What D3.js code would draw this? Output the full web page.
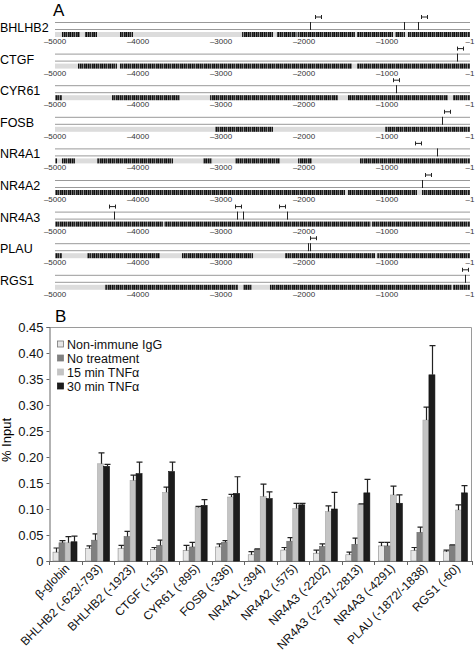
<!DOCTYPE html>
<html><head><meta charset="utf-8">
<script src="https://cdn.jsdelivr.net/npm/d3@7"></script>
<style>
body{margin:0;background:#fff;}
svg{display:block;font-family:"Liberation Sans",Arial,Helvetica,sans-serif;}
</style></head>
<body>
<svg id="c" width="475" height="655"></svg>
<script>
// ---------- Panel A data ----------
const genes = ["BHLHB2","CTGF","CYR61","FOSB","NR4A1","NR4A2","NR4A3","PLAU","RGS1"];
const trackTicks = [-5000,-4000,-3000,-2000,-1000,-1];
const sites = [[-1923,-793,-623],[-153],[-895],[-336],[-394],[-575],[-4291,-2813,-2731,-2202],[-1955,-1930],[-60]];
const amplicons = [[-1830,-560],[-120],[-892],[-277],[-626],[-506],[-4313,-2795,-2265],[-1892],[-60]];
const segments = [
  [[-4916,-4699],[-4639,-4494],[-4217,-4060],[-2747,-2374],[-2326,-2090],[-2078,-1386],[-1361,-928],[-904,-783],[-747,0]],
  [[-4723,-4253],[-4217,-1422],[-1361,0]],
  [[-5000,-4916],[-4313,-3494],[-3133,-1590],[-1470,-265],[-205,0]],
  [[-3072,-2374],[-1024,0]],
  [[-5000,-4976],[-4916,-4759],[-4494,-3578],[-3217,-3108],[-2831,-2289],[-2072,-1904],[-1325,0]],
  [[-5000,-1506],[-1470,-639],[-578,0]],
  [[-5000,-3700],[-3680,-1200],[-1180,0]],
  [[-5000,-4916],[-4614,-3735],[-3470,-2614],[-2229,-1145],[-1120,0]],
  [[-4398,-2795],[-2735,-2627],[-2410,-217],[-205,0]]
];

// ---------- Panel B data ----------
const categories = ["β-globin","BHLHB2 (-623/-793)","BHLHB2 (-1923)","CTGF (-153)","CYR61 (-895)","FOSB (-336)","NR4A1 (-394)","NR4A2 (-575)","NR4A3 (-2202)","NR4A3 (-2731/-2813)","NR4A3 (-4291)","PLAU (-1872/-1838)","RGS1 (-60)"];
const seriesNames = ["Non-immune IgG","No treatment","15 min TNFα","30 min TNFα"];
const igg      = [0.017,0.024,0.024,0.022,0.020,0.027,0.012,0.021,0.015,0.012,0.029,0.020,0.018];
const iggErr   = [0.008,0.005,0.006,0.004,0.010,0.006,0.006,0.005,0.006,0.005,0.007,0.006,0.003];
const noTreat  = [0.035,0.040,0.047,0.030,0.027,0.036,0.0225,0.038,0.028,0.032,0.029,0.055,0.030];
const noTreatErr=[0.004,0.012,0.010,0.010,0.009,0.003,0.001,0.007,0.005,0.012,0.007,0.010,0.001];
const min15    = [0.035,0.187,0.155,0.132,0.103,0.123,0.124,0.101,0.095,0.109,0.127,0.271,0.098];
const min15Err = [0.012,0.021,0.010,0.010,0.002,0.005,0.024,0.010,0.011,0.001,0.017,0.025,0.010];
const min30    = [0.037,0.182,0.168,0.172,0.107,0.130,0.120,0.108,0.100,0.131,0.111,0.358,0.131];
const min30Err = [0.011,0.004,0.022,0.018,0.011,0.032,0.013,0.003,0.032,0.026,0.016,0.056,0.014];
const yTicks = [0,0.05,0.10,0.15,0.20,0.25,0.30,0.35,0.40,0.45];

const values = [igg,noTreat,min15,min30];
const errors = [iggErr,noTreatErr,min15Err,min30Err];
const fills = ["#e6e6e6","#808080","#c4c4c4","#1c1c1c"];
const strokes = ["#8a8a8a","#6a6a6a","#a8a8a8","#111"];

const svg = d3.select("#c");
const defs = svg.append("defs");
const stripeCols = ["#111","#555","#222","#8a8a8a","#1a1a1a","#444","#0d0d0d","#777"];
const pat = defs.append("pattern").attr("id","stripe").attr("patternUnits","userSpaceOnUse")
  .attr("width",stripeCols.length).attr("height",6);
stripeCols.forEach((c,i)=>pat.append("rect").attr("x",i).attr("width",1).attr("height",6).attr("fill",c));

// ---------- Panel A ----------
svg.append("text").attr("x",53).attr("y",16).attr("font-size",17).text("A");
const tx = d3.scaleLinear().domain([-5000,0]).range([55,470]);
genes.forEach((g,i)=>{
  const y0 = 22 + 31.6*i;
  const G = svg.append("g");
  G.append("text").attr("x",0).attr("y",y0+10).attr("font-size",12.5).text(g);
  G.append("line").attr("x1",tx(-5000)).attr("x2",tx(0)).attr("y1",y0+0.5).attr("y2",y0+0.5).attr("stroke","#999");
  G.append("line").attr("x1",tx(-5000)).attr("x2",tx(0)).attr("y1",y0+7.5).attr("y2",y0+7.5).attr("stroke","#999");
  G.append("rect").attr("x",tx(-5000)).attr("y",y0+10).attr("width",tx(0)-tx(-5000)).attr("height",5).attr("fill","#dcdcdc");
  G.selectAll("rect.seg").data(segments[i]).join("rect").attr("class","seg")
    .attr("x",d=>tx(d[0])).attr("y",y0+10).attr("width",d=>Math.max(1,tx(d[1])-tx(d[0]))).attr("height",5)
    .attr("fill","url(#stripe)");
  G.selectAll("text.tk").data(trackTicks).join("text").attr("class","tk")
    .attr("x",d=>tx(d)).attr("y",y0+22).attr("font-size",8).attr("fill","#333")
    .attr("text-anchor","middle").text(d=>"–"+Math.abs(d));
  G.selectAll("line.site").data(sites[i]).join("line").attr("class","site")
    .attr("x1",d=>Math.round(tx(d))+0.5).attr("x2",d=>Math.round(tx(d))+0.5)
    .attr("y1",y0).attr("y2",y0+8).attr("stroke","#222").attr("stroke-width",1);
  const A = G.selectAll("g.amp").data(amplicons[i]).join("g").attr("class","amp")
    .attr("transform",d=>`translate(${Math.round(tx(d))+0.5},${y0-5})`);
  A.append("line").attr("x1",-3).attr("x2",3).attr("y1",0).attr("y2",0).attr("stroke","#222");
  A.append("line").attr("x1",-3).attr("x2",-3).attr("y1",-2).attr("y2",2).attr("stroke","#222");
  A.append("line").attr("x1",3).attr("x2",3).attr("y1",-2).attr("y2",2).attr("stroke","#222");
});

// ---------- Panel B ----------
svg.append("text").attr("x",55).attr("y",322).attr("font-size",17).text("B");
const pL=49, pR=472, pT=327, pB=561;
const y = d3.scaleLinear().domain([0,0.45]).range([pB,pT]);
const x0 = d3.scaleBand().domain(categories).range([pL,pR]);
const x1 = d3.scaleBand().domain(seriesNames).range([4,28]);

// frame top & right
svg.append("path").attr("d",`M${pL},${pT+0.5}H${pR-0.5}V${pB}`).attr("fill","none").attr("stroke","#9a9a9a");

const yAxis = svg.append("g").attr("transform",`translate(${pL+0.5},0)`)
  .call(d3.axisLeft(y).tickValues(yTicks).tickSize(3).tickPadding(3).tickFormat(d=>d===0?"0":d3.format(".2f")(d)));
yAxis.select(".domain").attr("stroke","#666");
yAxis.selectAll(".tick line").attr("stroke","#666");
yAxis.selectAll("text").attr("font-size",13).attr("fill","#111").attr("font-family","Liberation Sans,Arial,sans-serif");

// bottom axis with ticks at category boundaries
const bAx = svg.append("g");
bAx.append("line").attr("x1",pL).attr("x2",pR).attr("y1",pB+0.5).attr("y2",pB+0.5).attr("stroke","#666");
bAx.selectAll("line.bt").data(d3.range(categories.length+1)).join("line").attr("class","bt")
  .attr("x1",d=>Math.round(pL+d*x0.step())+0.5).attr("x2",d=>Math.round(pL+d*x0.step())+0.5)
  .attr("y1",pB).attr("y2",pB+4).attr("stroke","#666");
bAx.selectAll("text").data(categories).join("text")
  .attr("transform",d=>`translate(${x0(d)+x0.bandwidth()/2+5},${pB+8}) rotate(-45)`)
  .attr("text-anchor","end").attr("font-size",12).attr("fill","#111").text(d=>d);

// bars
seriesNames.forEach((s,k)=>{
  const g = svg.append("g");
  g.selectAll("rect").data(categories).join("rect")
    .attr("x",(d,j)=>x0(d)+x1(s)).attr("width",x1.bandwidth())
    .attr("y",(d,j)=>y(values[k][j])).attr("height",(d,j)=>pB-y(values[k][j]))
    .attr("fill",fills[k]).attr("stroke",strokes[k]).attr("stroke-width",0.6);
  g.selectAll("path").data(categories).join("path")
    .attr("d",(d,j)=>{
      const cx = Math.round(x0(d)+x1(s)+x1.bandwidth()/2)+0.5;
      const yt = y(values[k][j]+errors[k][j]);
      return `M${cx},${y(values[k][j])}V${yt}M${cx-3},${yt}H${cx+3}`;
    })
    .attr("fill","none").attr("stroke","#222").attr("stroke-width",1.2);
});

// legend
const lg = svg.append("g");
seriesNames.forEach((s,k)=>{
  const ly = 344 + 14*k;
  lg.append("rect").attr("x",57.5).attr("y",ly-3).attr("width",6).attr("height",6)
    .attr("fill",fills[k]).attr("stroke",k===0?"#777":fills[k]).attr("stroke-width",0.8);
  lg.append("text").attr("x",67).attr("y",ly+4.5).attr("font-size",12.5).attr("fill","#111").text(s);
});

// y label
svg.append("text").attr("transform","translate(11,440) rotate(-90)").attr("text-anchor","middle")
  .attr("font-size",13).text("% Input");
</script>
</body></html>
